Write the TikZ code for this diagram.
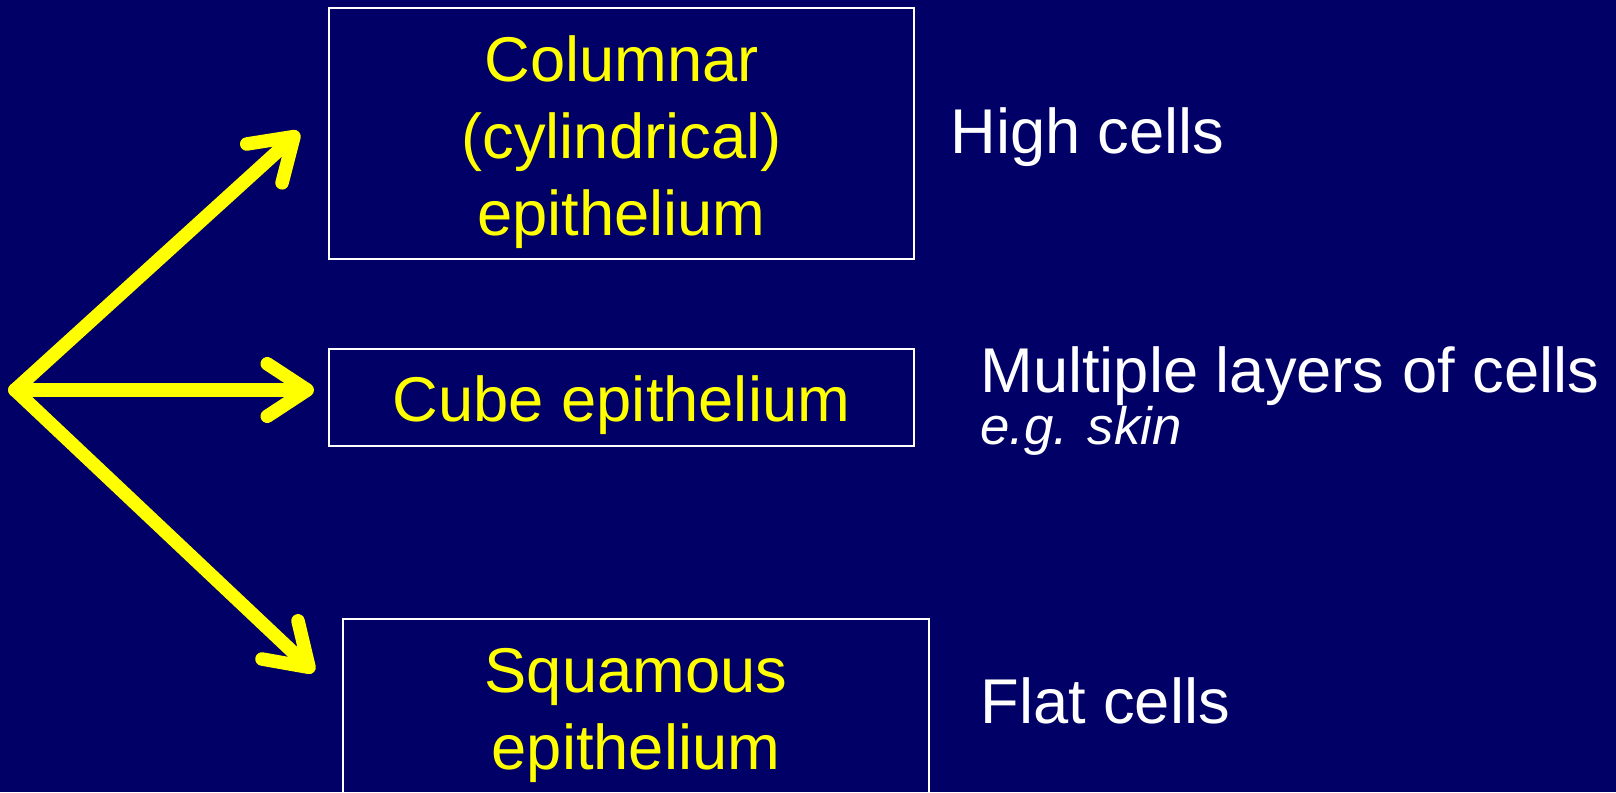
\documentclass[tikz,border=0pt]{standalone}
\usepackage{fontspec}
\setmainfont{Liberation Sans}
\usepackage{tikz}
\usetikzlibrary{arrows.meta}

\definecolor{slidebg}{RGB}{0,0,102}
\definecolor{arrowyellow}{RGB}{255,255,0}

\tikzset{
    typebox/.style={draw=white, line width=1pt, minimum width=11.7cm, inner sep=0pt},
    boxtext/.style={text=arrowyellow, align=center, inner sep=0pt,
        font=\fontsize{36}{44}\selectfont},
    celllabel/.style={anchor=west, inner sep=0pt, text=white, font=\fontsize{36}{42.7}\selectfont},
    branch/.style={draw=arrowyellow, line width=0.27cm, line cap=round,
        -{Straight Barb[length=0.8cm, width=1.05cm, round]}}
}

\begin{document}
\begin{tikzpicture}
    % Background
    \fill[slidebg] (0,0) rectangle (32.32,15.84);
    \useasboundingbox (0,0) rectangle (32.32,15.84);
    \clip (0,0) rectangle (32.32,15.84);

    % Epithelium boxes
    \node[typebox, minimum height=5.02cm] (colbox) at (12.43,13.17) {};
    \node[boxtext] (coltext) at ([yshift=-0.17cm]colbox.center) {Columnar\\(cylindrical)\\epithelium};
    \node[typebox, minimum height=1.94cm] (cubebox) at (12.43,7.89) {};
    \node[boxtext] (cubetext) at ([yshift=-0.16cm]cubebox.center) {Cube epithelium};
    \node[typebox, minimum width=11.72cm, minimum height=3.62cm] (squabox) at (12.72,1.65) {};
    \node[boxtext] (squatext) at ([yshift=-0.12cm]squabox.center) {Squamous\\epithelium};

    % Descriptions
    \node[celllabel] (highlbl) at (19.0,13.1) {High cells};
    \node[celllabel] (layerlbl) at (19.6,8.32) {Multiple layers of cells};
    \node[celllabel, font=\fontsize{30}{36}\selectfont\itshape] (skinlbl) at (19.6,7.22) {e.g. skin};
    \node[celllabel] (flatlbl) at (19.6,1.82) {Flat cells};

    % Branching arrows
    \coordinate (src) at (0.3,8.04);
    \coordinate (coltip) at (5.98,13.2);
    \coordinate (cubetip) at (6.28,8.04);
    \coordinate (squatip) at (6.28,2.4);
    \draw[branch] (src) -- (coltip);
    \draw[branch] (src) -- (cubetip);
    \draw[branch] (src) -- (squatip);
\end{tikzpicture}
\end{document}
